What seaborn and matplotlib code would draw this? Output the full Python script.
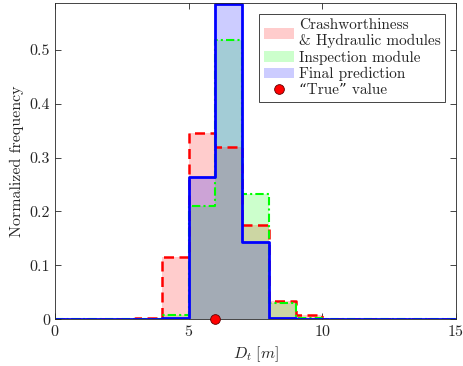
import numpy as np
import pandas as pd
import matplotlib
matplotlib.use("Agg")
import matplotlib.pyplot as plt
import seaborn as sns
from matplotlib.patches import Patch
from matplotlib.lines import Line2D

# Data (normalized frequency per 1 m bin)
bin_edges = list(range(0, 16))
bin_centers = [e + 0.5 for e in bin_edges[:-1]]
crash_hyd = [0, 0, 0, 0.003, 0.115, 0.345, 0.32, 0.175, 0.033, 0.008, 0, 0, 0, 0, 0]
inspection = [0, 0, 0, 0, 0.007, 0.21, 0.518, 0.233, 0.03, 0.002, 0, 0, 0, 0, 0]
final_pred = [0, 0, 0, 0, 0.003, 0.263, 0.585, 0.143, 0.003, 0, 0, 0, 0, 0, 0]
true_value = 6.0

sns.set_style("ticks")
plt.rcParams["font.family"] = ["cmr10", "DejaVu Serif"]
plt.rcParams["mathtext.fontset"] = "cm"
plt.rcParams["axes.formatter.use_mathtext"] = True
plt.rcParams["font.size"] = 11.5

fig = plt.figure(figsize=(4.63, 3.66), dpi=100)
ax = fig.add_axes([0.119, 0.128, 0.866, 0.864])

series = [
    (crash_hyd, (1, 0, 0), (0, (4, 2.2)), 1.8),
    (inspection, (0, 1, 0), (0, (4, 1.5, 1, 1.5)), 1.5),
    (final_pred, (0, 0, 1), "-", 2.0),
]
for vals, col, ls, lw in series:
    df = pd.DataFrame({"x": bin_centers, "w": vals})
    sns.histplot(data=df, x="x", weights="w", bins=bin_edges, element="step",
                 fill=True, color=col, alpha=0.2, linewidth=0, ax=ax)
    sns.histplot(data=df, x="x", weights="w", bins=bin_edges, element="step",
                 fill=False, color=col, linestyle=ls, linewidth=lw, ax=ax)

ax.plot([true_value], [0], "o", color="red", markeredgecolor="#600000",
        markersize=7, markeredgewidth=0.6, clip_on=False, zorder=10)

ax.set_xlim(0, 15)
ax.set_ylim(0, 0.587)
ax.set_xticks([0, 5, 10, 15])
ax.set_yticks([0, 0.1, 0.2, 0.3, 0.4, 0.5])
ax.set_yticklabels(["0", "0.1", "0.2", "0.3", "0.4", "0.5"])
ax.set_xlabel(r"$D_t\ [m]$")
ax.set_ylabel("Normalized frequency")
ax.tick_params(direction="in", top=True, right=True, length=4, width=0.6,
               colors="#262626")
for s in ax.spines.values():
    s.set_visible(True)
    s.set_color("#262626")
    s.set_linewidth(0.6)

handles = [
    Patch(facecolor=(1, 0, 0), alpha=0.2, edgecolor="none"),
    Patch(facecolor=(0, 1, 0), alpha=0.2, edgecolor="none"),
    Patch(facecolor=(0, 0, 1), alpha=0.2, edgecolor="none"),
    Line2D([], [], marker="o", color="red", markeredgecolor="#600000",
           linestyle="none", markersize=7, markeredgewidth=0.6),
]
labels = ["Crashworthiness\n& Hydraulic modules", "Inspection module",
          "Final prediction", "\u201cTrue\u201d value"]
leg = ax.legend(handles, labels, loc="upper right", fancybox=False,
                edgecolor="#262626", framealpha=1, fontsize=11,
                handlelength=2.0, handletextpad=0.3, labelspacing=0.15,
                borderpad=0.3, borderaxespad=0.7)
leg.get_frame().set_linewidth(0.6)

fig.savefig("out.png", dpi=100)
